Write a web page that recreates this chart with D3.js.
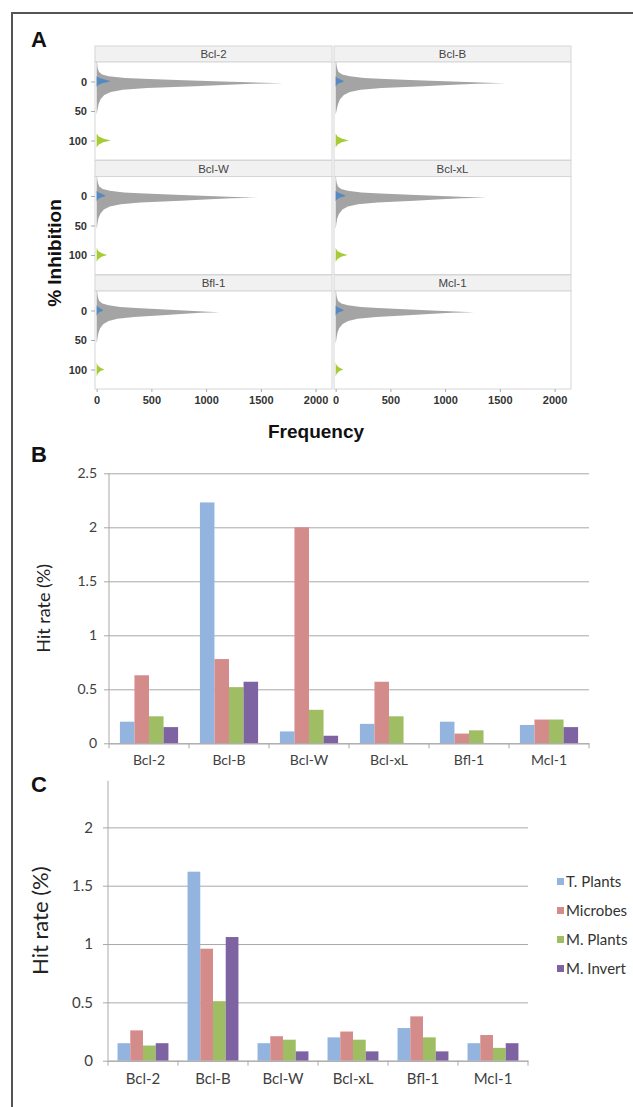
<!DOCTYPE html>
<html>
<head>
<meta charset="utf-8">
<script src="https://cdn.jsdelivr.net/npm/d3@7"></script>
<style>
  body { margin: 0; background: #fff; }
  svg { display: block; }
</style>
</head>
<body>
<svg id="fig" width="633" height="1107"></svg>
<script>
// ---- panel A : inhibition histograms ----
const facets = ["Bcl-2", "Bcl-B", "Bcl-W", "Bcl-xL", "Bfl-1", "Mcl-1"];

// % inhibition where the grey profile was read
const inhGrid = [-33, -28, -22, -16, -12, -9, -6, -4, -2, 0, 2, 3, 4, 6, 8, 11, 14, 18, 23, 30, 38, 46, 52, 56];
const grayBcl2  = [4, 6, 10, 22, 50, 110, 260, 480, 800, 1150, 1530, 1700, 1420, 1150, 900, 460, 240, 130, 70, 36, 18, 9, 4, 0];
const grayBclB  = [5, 8, 14, 26, 60, 130, 260, 450, 740, 1060, 1390, 1545, 1290, 1030, 800, 420, 230, 130, 75, 40, 22, 11, 5, 0];
const grayBclW  = [4, 6, 12, 24, 55, 120, 250, 440, 720, 1020, 1330, 1475, 1230, 990, 770, 400, 220, 120, 66, 34, 16, 8, 4, 0];
const grayBclxL = [3, 5, 10, 22, 50, 110, 235, 410, 680, 960, 1250, 1380, 1150, 920, 720, 380, 205, 112, 62, 31, 14, 7, 3, 0];
const grayBfl1  = [4, 7, 12, 24, 52, 110, 215, 360, 580, 800, 1020, 1125, 950, 770, 600, 340, 190, 110, 62, 32, 16, 8, 4, 0];
const grayMcl1  = [4, 6, 11, 23, 52, 112, 230, 390, 630, 880, 1140, 1265, 1060, 850, 660, 370, 200, 115, 64, 32, 16, 8, 4, 0];
const grayCounts = [grayBcl2, grayBclB, grayBclW, grayBclxL, grayBfl1, grayMcl1];

// negative controls (blue) around 0 %
const blueInh   = [-9, -6, -3, -1, 1, 3, 6, 9];
const blueBcl2  = [0, 25, 80, 125, 105, 50, 15, 0];
const blueBclB  = [0, 15, 50, 75, 65, 30, 10, 0];
const blueBclW  = [0, 18, 55, 80, 70, 32, 10, 0];
const blueBclxL = [0, 20, 60, 90, 78, 36, 12, 0];
const blueBfl1  = [0, 12, 40, 60, 52, 25, 8, 0];
const blueMcl1  = [0, 15, 50, 75, 65, 30, 10, 0];
const blueCounts = [blueBcl2, blueBclB, blueBclW, blueBclxL, blueBfl1, blueMcl1];

// positive controls (green) around 100 %
const greenInh   = [88, 93, 97, 100, 103, 107, 112];
const greenBcl2  = [0, 20, 65, 130, 60, 18, 0];
const greenBclB  = [0, 18, 60, 120, 55, 16, 0];
const greenBclW  = [0, 14, 48, 95, 45, 13, 0];
const greenBclxL = [0, 16, 55, 110, 50, 15, 0];
const greenBfl1  = [0, 10, 35, 70, 32, 10, 0];
const greenMcl1  = [0, 10, 35, 70, 32, 10, 0];
const greenCounts = [greenBcl2, greenBclB, greenBclW, greenBclxL, greenBfl1, greenMcl1];

const inhTicks = [0, 50, 100];
const freqTicks = [0, 500, 1000, 1500, 2000];

// ---- panels B and C : hit rates ----
const targets = ["Bcl-2", "Bcl-B", "Bcl-W", "Bcl-xL", "Bfl-1", "Mcl-1"];
const sources = ["T. Plants", "Microbes", "M. Plants", "M. Invert"];
const sourceColors = ["#92b4de", "#d38c8a", "#9fbd63", "#7e63a3"];

const hitB_tPlants = [0.20, 2.23, 0.11, 0.18, 0.20, 0.17];
const hitB_microbes = [0.63, 0.78, 2.00, 0.57, 0.09, 0.22];
const hitB_mPlants = [0.25, 0.52, 0.31, 0.25, 0.12, 0.22];
const hitB_mInvert = [0.15, 0.57, 0.07, 0, 0, 0.15];
const ticksB = [0, 0.5, 1, 1.5, 2, 2.5];

const hitC_tPlants = [0.15, 1.62, 0.15, 0.20, 0.28, 0.15];
const hitC_microbes = [0.26, 0.96, 0.21, 0.25, 0.38, 0.22];
const hitC_mPlants = [0.13, 0.51, 0.18, 0.18, 0.20, 0.11];
const hitC_mInvert = [0.15, 1.06, 0.08, 0.08, 0.08, 0.15];
const ticksC = [0, 0.5, 1, 1.5, 2];

const svg = d3.select("#fig");
const boldFont = "'Liberation Sans', Arial, sans-serif";
const xlFont = "Lato, 'Open Sans', sans-serif";

// frame (left + top only)
svg.append("path")
  .attr("d", "M12,1107V13H633")
  .attr("fill", "none")
  .attr("stroke", "#555")
  .attr("stroke-width", 2);

// panel letters
svg.selectAll(".letter")
  .data([["A", 47], ["B", 462], ["C", 792]])
  .enter().append("text")
  .attr("x", 31)
  .attr("y", d => d[1])
  .attr("font-family", boldFont)
  .attr("font-weight", "bold")
  .attr("font-size", 22)
  .attr("fill", "#111")
  .text(d => d[0]);

// ================= panel A =================
const colLeft = [95, 334];
const facetW = 237, stripH = 16, panelH = 98, rowPitch = 114.5, firstRow = 46;

const xA = d3.scaleLinear().domain([-15, 2150]).range([0, facetW]);
const yA = d3.scaleLinear().domain([-33, 133]).range([0, panelH]);

const areaA = d3.area()
  .y(d => yA(d[0]))
  .x0(xA(0))
  .x1(d => xA(d[1]));

facets.forEach((name, i) => {
  const col = i % 2, row = Math.floor(i / 2);
  const gx = colLeft[col], gy = firstRow + row * rowPitch;

  const g = svg.append("g").attr("transform", `translate(${gx},${gy})`);

  // strip
  g.append("rect")
    .attr("width", facetW).attr("height", stripH)
    .attr("fill", "#f1f1f1").attr("stroke", "#d6d6d6");
  g.append("text")
    .attr("x", facetW / 2).attr("y", 12)
    .attr("text-anchor", "middle")
    .attr("font-family", boldFont)
    .attr("font-size", 11.5)
    .attr("fill", "#444")
    .text(name);

  const p = g.append("g").attr("transform", `translate(0,${stripH})`);
  p.append("rect")
    .attr("width", facetW).attr("height", panelH)
    .attr("fill", "#fff").attr("stroke", "#d6d6d6");

  p.append("path")
    .datum(d3.zip(inhGrid, grayCounts[i]))
    .attr("d", areaA)
    .attr("fill", "#a4a4a4");
  p.append("path")
    .datum(d3.zip(blueInh, blueCounts[i]))
    .attr("d", areaA)
    .attr("fill", "#4d86c4")
    .attr("opacity", 0.9);
  p.append("path")
    .datum(d3.zip(greenInh, greenCounts[i]))
    .attr("d", areaA)
    .attr("fill", "#a6cb35");

  // left axis on first column
  if (col === 0) {
    const ax = p.append("g")
      .call(d3.axisLeft(yA).tickValues(inhTicks).tickSize(4).tickPadding(4));
    ax.select(".domain").remove();
    ax.selectAll("line").attr("stroke", "#aaa");
    ax.selectAll("text")
      .attr("font-family", boldFont)
      .attr("font-weight", "bold")
      .attr("font-size", 11)
      .attr("fill", "#333");
  }
  // bottom axis on last row
  if (row === 2) {
    const ax = p.append("g")
      .attr("transform", `translate(0,${panelH})`)
      .call(d3.axisBottom(xA).tickValues(freqTicks).tickFormat(d3.format("d"))
        .tickSize(3).tickPadding(4));
    ax.select(".domain").remove();
    ax.selectAll("line").attr("stroke", "#aaa");
    ax.selectAll("text")
      .attr("font-family", boldFont)
      .attr("font-weight", "bold")
      .attr("font-size", 11)
      .attr("fill", "#333");
  }
});

svg.append("text")
  .attr("transform", "translate(61,253) rotate(-90)")
  .attr("text-anchor", "middle")
  .attr("font-family", boldFont)
  .attr("font-weight", "bold")
  .attr("font-size", 19)
  .attr("fill", "#111")
  .text("% Inhibition");

svg.append("text")
  .attr("x", 316).attr("y", 438)
  .attr("text-anchor", "middle")
  .attr("font-family", boldFont)
  .attr("font-weight", "bold")
  .attr("font-size", 19)
  .attr("fill", "#111")
  .text("Frequency");

// ================= panels B / C =================
function hitPanel(cfg) {
  const series = cfg.values;
  const x0 = d3.scaleBand().domain(targets).range([cfg.left, cfg.right]);
  const x1 = d3.scaleBand().domain(sources).range([0, x0.bandwidth()]).paddingOuter(0.75);
  const y = d3.scaleLinear().domain([0, cfg.max]).range([cfg.bottom, cfg.top]);

  const g = svg.append("g");

  // gridlines + tick labels
  const ya = g.append("g")
    .attr("transform", `translate(${cfg.left - 5},0)`)
    .call(d3.axisLeft(y).tickValues(cfg.ticks).tickFormat(d3.format("~g"))
      .tickSizeInner(-(cfg.right - cfg.left + 5)).tickSizeOuter(0).tickPadding(cfg.pad));
  ya.select(".domain").remove();
  ya.selectAll("line").attr("stroke", "#a9a9a9");
  ya.selectAll("text")
    .attr("font-family", xlFont)
    .attr("font-size", cfg.fs)
    .attr("fill", "#404040");

  // value axis line
  g.append("line")
    .attr("x1", cfg.left).attr("x2", cfg.left)
    .attr("y1", y(0)).attr("y2", y(cfg.max))
    .attr("stroke", "#a9a9a9");

  // bars
  const groups = g.selectAll(".grp")
    .data(targets)
    .enter().append("g")
    .attr("transform", d => `translate(${x0(d)},0)`);

  groups.selectAll("rect")
    .data((d, ti) => sources.map((s, si) => ({ s, si, v: series[si][ti] })))
    .enter().append("rect")
    .attr("x", d => x1(d.s))
    .attr("width", x1.bandwidth())
    .attr("y", d => y(d.v))
    .attr("height", d => y(0) - y(d.v))
    .attr("fill", d => sourceColors[d.si]);

  // category axis
  const xa = g.append("g")
    .attr("transform", `translate(0,${y(0)})`)
    .call(d3.axisBottom(x0).tickSize(0).tickPadding(cfg.catPad));
  xa.select(".domain").attr("stroke", "#a9a9a9");
  xa.selectAll("text")
    .attr("font-family", xlFont)
    .attr("font-size", cfg.fs)
    .attr("fill", "#404040");

  g.selectAll(".ctick")
    .data([targets[0]].concat(targets))
    .enter().append("line")
    .attr("x1", (d, i) => i === 0 ? x0(d) : x0(d) + x0.bandwidth())
    .attr("x2", (d, i) => i === 0 ? x0(d) : x0(d) + x0.bandwidth())
    .attr("y1", y(0)).attr("y2", y(0) + 5)
    .attr("stroke", "#a9a9a9");

  g.append("text")
    .attr("transform", `translate(${cfg.titleX},${(cfg.top + cfg.bottom) / 2}) rotate(-90)`)
    .attr("text-anchor", "middle")
    .attr("font-family", xlFont)
    .attr("font-size", cfg.titleFs)
    .attr("fill", "#222")
    .text("Hit rate (%)");
}

hitPanel({
  values: [hitB_tPlants, hitB_microbes, hitB_mPlants, hitB_mInvert],
  left: 109, right: 589, top: 473.3, bottom: 743.3, max: 2.5,
  ticks: ticksB, fs: 14, pad: 7, catPad: 12, titleX: 50, titleFs: 18
});

hitPanel({
  values: [hitC_tPlants, hitC_microbes, hitC_mPlants, hitC_mInvert],
  left: 108, right: 528, top: 780.7, bottom: 1060.7, max: 2.4,
  ticks: ticksC, fs: 15, pad: 10, catPad: 13, titleX: 48, titleFs: 22
});

// legend for C
const leg = svg.append("g");
const legItem = leg.selectAll("g")
  .data(sources)
  .enter().append("g")
  .attr("transform", (d, i) => `translate(557,${882 + i * 29})`);
legItem.append("rect")
  .attr("x", 0).attr("y", -4)
  .attr("width", 7).attr("height", 7)
  .attr("fill", (d, i) => sourceColors[i]);
legItem.append("text")
  .attr("x", 9).attr("y", 5)
  .attr("font-family", xlFont)
  .attr("font-size", 15)
  .attr("fill", "#333")
  .text(d => d);
</script>
</body>
</html>
